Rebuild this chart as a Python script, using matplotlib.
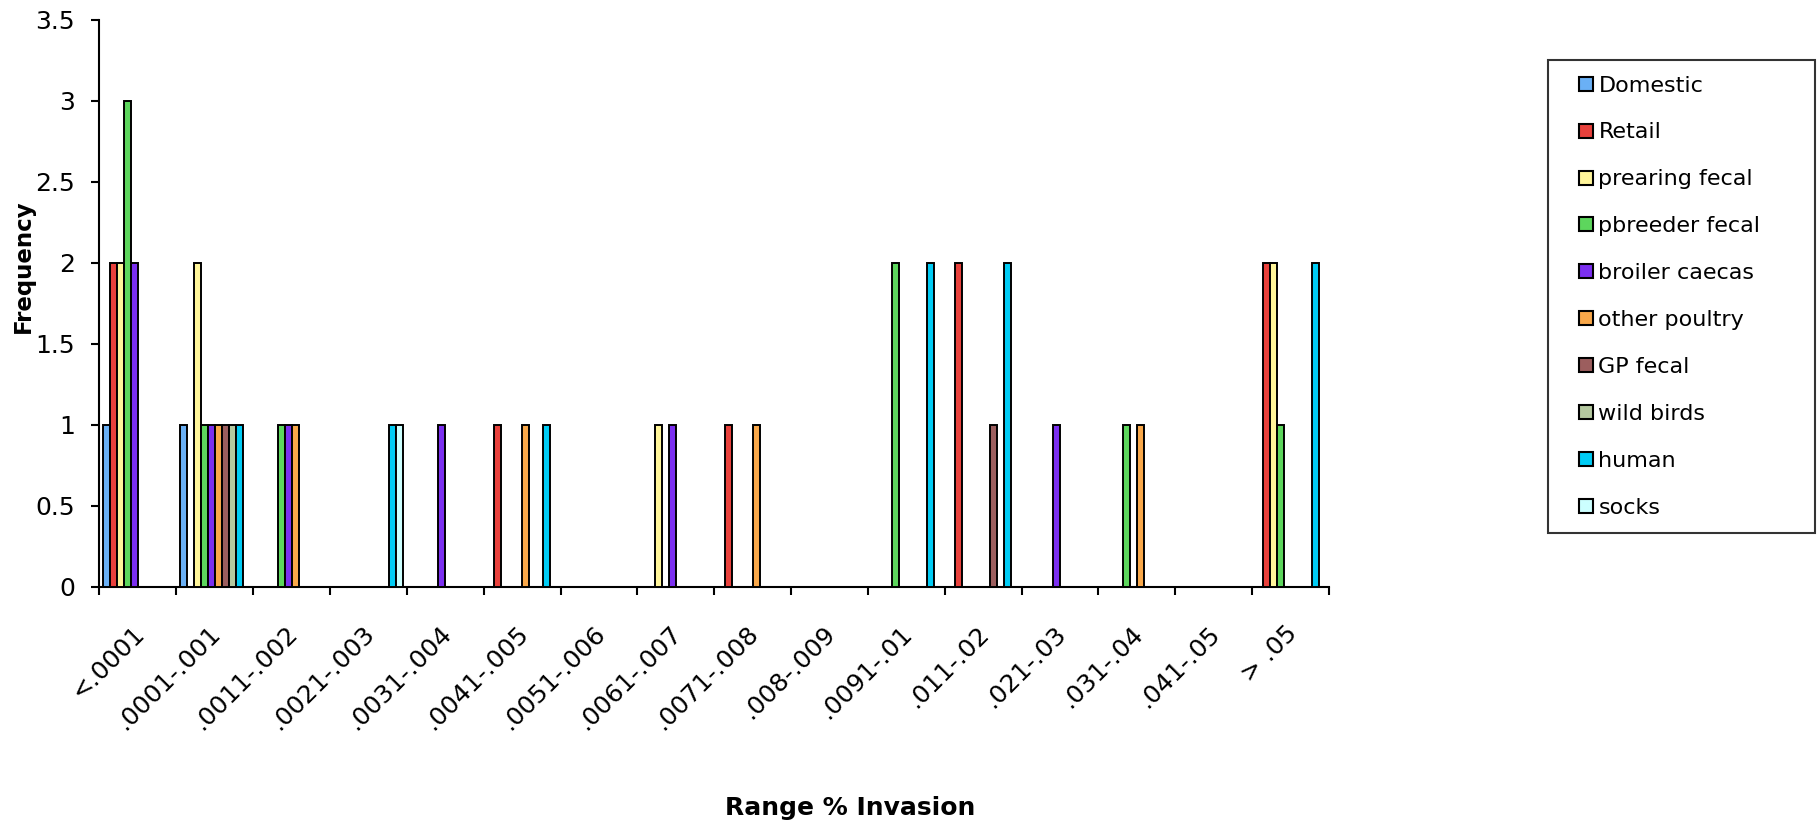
import matplotlib
matplotlib.use("Agg")
import matplotlib.pyplot as plt
from matplotlib.lines import Line2D
from matplotlib.transforms import ScaledTranslation
import numpy as np

plt.rcParams['font.family'] = ['DejaVu Sans']

# Invasion ranges (x categories)
ranges = ['<.0001', '.0001-.001', '.0011-.002', '.0021-.003', '.0031-.004',
          '.0041-.005', '.0051-.006', '.0061-.007', '.0071-.008', '.008-.009',
          '.0091-.01', '.011-.02', '.021-.03', '.031-.04', '.041-.05', '> .05']

sources = ['Domestic', 'Retail', 'prearing fecal', 'pbreeder fecal',
           'broiler caecas', 'other poultry', 'GP fecal', 'wild birds',
           'human', 'socks']

colors = ['#6AB0F5', '#E8413C', '#FFF59A', '#5DD65D', '#7B2FF0',
          '#F9A84A', '#9C5E5E', '#B5C9A0', '#00CCF5', '#CCFFFF']

# Frequency per range for each source
domestic       = [1, 1, 0, 0, 0, 0, 0, 0, 0, 0, 0, 0, 0, 0, 0, 0]
retail         = [2, 0, 0, 0, 0, 1, 0, 0, 1, 0, 0, 2, 0, 0, 0, 2]
prearing_fecal = [2, 2, 0, 0, 0, 0, 0, 1, 0, 0, 0, 0, 0, 0, 0, 2]
pbreeder_fecal = [3, 1, 1, 0, 0, 0, 0, 0, 0, 0, 2, 0, 0, 1, 0, 1]
broiler_caecas = [2, 1, 1, 0, 1, 0, 0, 1, 0, 0, 0, 0, 1, 0, 0, 0]
other_poultry  = [0, 1, 1, 0, 0, 1, 0, 0, 1, 0, 0, 0, 0, 1, 0, 0]
gp_fecal       = [0, 1, 0, 0, 0, 0, 0, 0, 0, 0, 0, 1, 0, 0, 0, 0]
wild_birds     = [0, 1, 0, 0, 0, 0, 0, 0, 0, 0, 0, 0, 0, 0, 0, 0]
human          = [0, 1, 0, 1, 0, 1, 0, 0, 0, 0, 2, 2, 0, 0, 0, 2]
socks          = [0, 0, 0, 1, 0, 0, 0, 0, 0, 0, 0, 0, 0, 0, 0, 0]

series = [domestic, retail, prearing_fecal, pbreeder_fecal, broiler_caecas,
          other_poultry, gp_fecal, wild_birds, human, socks]

fig = plt.figure(figsize=(18.18, 8.26), dpi=100)
ax = fig.add_axes([0.0547, 0.2897, 0.731 - 0.0547, 0.9758 - 0.2897])

n = len(series)
bar_w = 0.0912
x = np.arange(len(ranges))
for j, (vals, col) in enumerate(zip(series, colors)):
    ax.bar(x + (j - (n - 1) / 2) * bar_w, vals, width=bar_w, color=col,
           edgecolor='black', linewidth=1.4, zorder=3)

ax.set_xlim(-0.5, len(ranges) - 0.5)
ax.set_ylim(0, 3.5)

# y axis
yt = np.arange(0, 3.51, 0.5)
ax.set_yticks(yt)
ax.set_yticklabels(['%g' % v for v in yt])
ax.tick_params(axis='y', direction='out', length=5.5, width=1.5,
               pad=12, labelsize=18)

# x axis: ticks on category boundaries, labels at centers
ax.set_xticks(np.arange(len(ranges) + 1) - 0.5)
ax.set_xticklabels([])
ax.tick_params(axis='x', which='major', direction='out', length=6, width=1.5)
ax.set_xticks(x, minor=True)
ax.set_xticklabels(ranges, minor=True, rotation=45, ha='right', va='top',
                   rotation_mode='anchor')
ax.tick_params(axis='x', which='minor', length=0, pad=25, labelsize=18)
shift = ScaledTranslation(-6 / 100, 0, fig.dpi_scale_trans)
for lbl in ax.get_xticklabels(minor=True):
    lbl.set_transform(lbl.get_transform() + shift)

for s in ['top', 'right']:
    ax.spines[s].set_visible(False)
for s in ['left', 'bottom']:
    ax.spines[s].set_linewidth(1.5)
    ax.spines[s].set_color('black')

fig.text(23 / 1818, 1 - 266 / 826, 'Frequency', rotation=90, ha='center',
         va='center', fontsize=16.5, fontweight='bold')
fig.text(850 / 1818, 1 - 808 / 826, 'Range % Invasion', ha='center',
         va='center', fontsize=18, fontweight='bold')

handles = [Line2D([], [], linestyle='none', marker='s', markersize=10,
                  markerfacecolor=c, markeredgecolor='black',
                  markeredgewidth=1.5) for c in colors]
leg = fig.legend(handles, sources, loc='upper left',
                 bbox_to_anchor=(1548 / 1818, 1 - 60 / 826,
                                 (1815 - 1548) / 1818, 0.0),
                 mode='expand', fontsize=16, frameon=True, fancybox=False,
                 borderpad=0.7, labelspacing=1.21, handlelength=2.03,
                 handletextpad=-0.46, borderaxespad=0)
leg.get_frame().set_edgecolor('black')
leg.get_frame().set_linewidth(1.5)

fig.savefig('out.png', dpi=100, facecolor='white')
